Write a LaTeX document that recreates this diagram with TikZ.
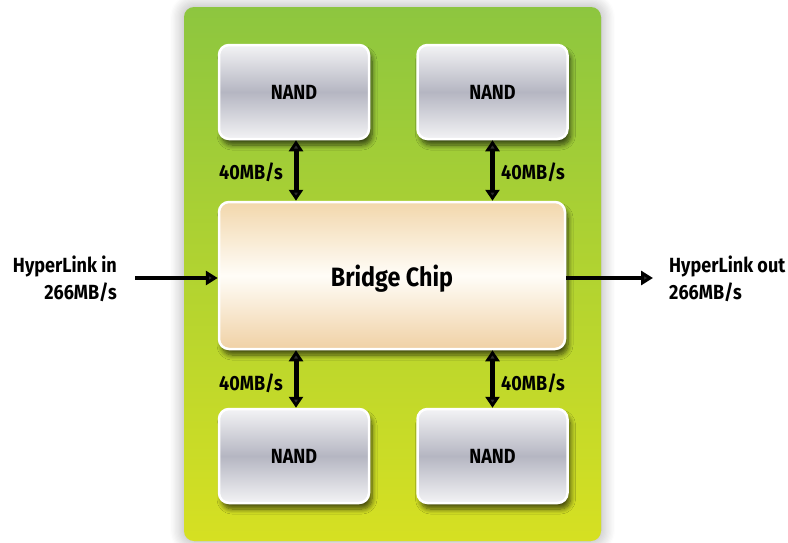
\documentclass[tikz,border=0pt]{standalone}
\usepackage{fontspec}
\newfontfamily\labfont[FakeStretch=0.88]{Fira Sans}
\usetikzlibrary{arrows.meta,shadows.blur}

\definecolor{panelTop}{HTML}{8DC63F}
\definecolor{panelBot}{HTML}{D6E022}
\definecolor{nandEdge}{HTML}{F3F3F5}
\definecolor{nandMid}{HTML}{B5B6C2}
\definecolor{chipTop}{HTML}{F2D7AC}
\definecolor{chipMid}{HTML}{FFFDF8}
\definecolor{chipBot}{HTML}{F0D1A5}

\tikzset{
  txt/.style={font=\labfont\bfseries\fontsize{20.5}{27}\selectfont, text=black, inner sep=0pt},
  panel/.style={rounded corners=10pt, top color=panelTop, bottom color=panelBot,
    blur shadow={shadow xshift=0pt, shadow yshift=0pt, shadow blur radius=14pt,
      shadow opacity=35, shadow blur steps=12}},
  chipbase/.style={draw=white, line width=2.5pt, rounded corners=10pt,
    blur shadow={shadow xshift=3pt, shadow yshift=-6pt, shadow blur radius=5pt,
      shadow opacity=65, shadow blur steps=8}},
  nandbox/.style={chipbase, minimum width=150pt, minimum height=94pt,
    top color=nandEdge, bottom color=nandEdge, middle color=nandMid,
    txt},
  bridgebox/.style={chipbase, minimum width=346pt, minimum height=147pt,
    top color=chipTop, bottom color=chipBot, middle color=chipMid,
    txt, font=\labfont\bfseries\fontsize{26.5}{30}\selectfont, text depth=0pt},
  link/.style={line width=4.5pt, -{Triangle[length=12pt,width=14pt]}},
  duplex/.style={line width=5pt, {Triangle[length=11pt,width=14pt]}-{Triangle[length=11pt,width=14pt]}},
}

\begin{document}
\begin{tikzpicture}[x=1pt, y=-1pt]
  \useasboundingbox (0,0) rectangle (788,542);

  % board background
  \path[panel] (184,7) rectangle (601,541);

  % memory chips and the bridge
  \node[nandbox] (nandA) at (294,92) {NAND};
  \node[nandbox] (nandB) at (492.5,92) {NAND};
  \node[bridgebox] (bridge) at (392,275.5) {Bridge Chip};
  \node[nandbox] (nandC) at (294,456) {NAND};
  \node[nandbox] (nandD) at (492.5,456) {NAND};

  % chip-to-bridge links
  \draw[duplex] ([xshift=2pt]nandA.south) -- ([xshift=2pt]nandA.south |- bridge.north);
  \draw[duplex] (nandB.south) -- (nandB.south |- bridge.north);
  \draw[duplex] ([xshift=2pt]nandC.north) -- ([xshift=2pt]nandC.north |- bridge.south);
  \draw[duplex] (nandD.north) -- (nandD.north |- bridge.south);

  \node[txt, anchor=base east] (rateA) at (283,179) {40MB/s};
  \node[txt, anchor=base west] (rateB) at (501,179) {40MB/s};
  \node[txt, anchor=base east] (rateC) at (283,390) {40MB/s};
  \node[txt, anchor=base west] (rateD) at (501,390) {40MB/s};

  % HyperLink in / out
  \coordinate (inEnd) at (135,278);
  \coordinate (outEnd) at (653,278);
  \draw[link] (inEnd) -- (bridge.west |- inEnd);
  \draw[link] (bridge.east |- outEnd) -- (outEnd);

  \node[txt, align=right, anchor=east] (hin) at (117,279) {HyperLink in\\266MB/s};
  \node[txt, align=left, anchor=west] (hout) at (669,279) {HyperLink out\\266MB/s};
\end{tikzpicture}
\end{document}
